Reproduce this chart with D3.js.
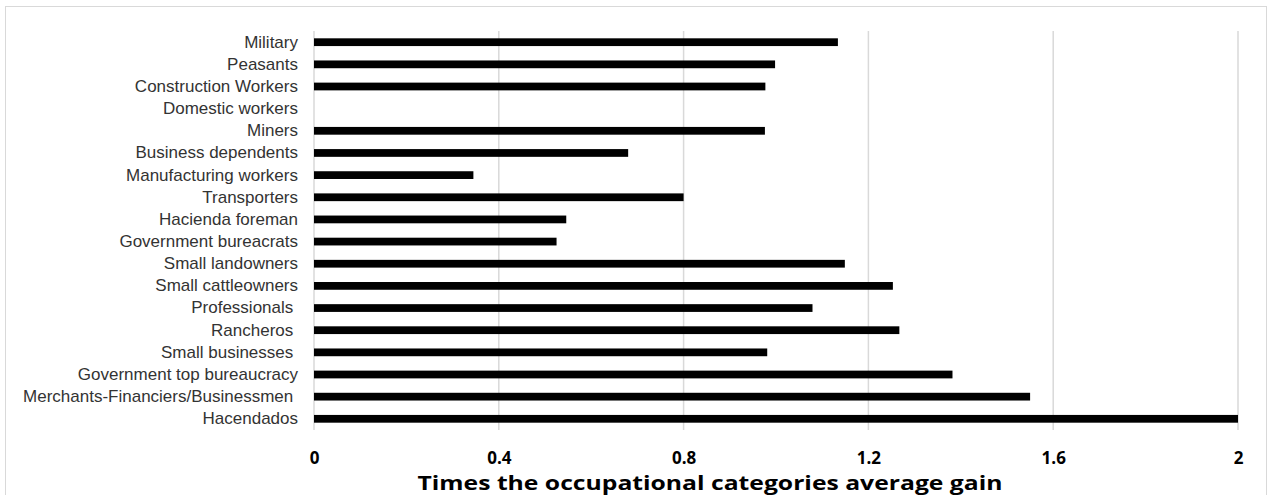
<!DOCTYPE html>
<html lang="en">
<head>
    <meta charset="UTF-8">
    <script src="https://cdn.jsdelivr.net/npm/d3@7"></script>
    <title>Occupational categories average gain</title>
    <style>
        body { margin: 0; background: #fff; }
        .cat text { white-space: pre; }
    </style>
</head>
<body>
    <script>
        const w = 1269;
        const h = 495;

        const categories = [
            "Military", "Peasants", "Construction Workers", "Domestic workers", "Miners",
            "Business dependents", "Manufacturing workers", "Transporters", "Hacienda foreman",
            "Government bureacrats", "Small landowners", "Small cattleowners", "Professionals ",
            "Rancheros ", "Small businesses ", "Government top bureaucracy",
            "Merchants-Financiers/Businessmen ", "Hacendados"
        ];
        const gains = [
            1.134, 0.998, 0.977, 0, 0.976,
            0.680, 0.345, 0.800, 0.546,
            0.525, 1.149, 1.253, 1.079,
            1.267, 0.981, 1.382,
            1.550, 2.000
        ];
        const tickValues = [0, 0.4, 0.8, 1.2, 1.6, 2];
        const axisTitle = "Times the occupational categories average gain";

        const margin = {top: 31, left: 314, right: 31, bottom: 65};

        const svg = d3.select("body")
                        .append("svg")
                        .attr("width", w)
                        .attr("height", h);

        // chart frame
        svg.append("rect")
            .attr("x", 5.5)
            .attr("y", 6.5)
            .attr("width", 1261)
            .attr("height", h + 10)
            .attr("fill", "none")
            .attr("stroke", "#d9d9d9");

        const x = d3.scaleLinear()
                    .domain([0, 2])
                    .range([margin.left, w - margin.right]);

        const y = d3.scaleBand()
                    .domain(categories)
                    .range([margin.top, h - margin.bottom])
                    .paddingInner(0.65)
                    .paddingOuter(0.33);

        // gridlines
        svg.append("g")
            .selectAll("line")
            .data(tickValues)
            .enter()
            .append("line")
            .attr("x1", d => x(d))
            .attr("x2", d => x(d))
            .attr("y1", margin.top)
            .attr("y2", h - margin.bottom)
            .attr("stroke", "#d9d9d9")
            .attr("stroke-width", 1.5);

        // bars
        svg.append("g")
            .selectAll("rect")
            .data(categories)
            .enter()
            .append("rect")
            .attr("x", x(0))
            .attr("y", d => y(d))
            .attr("height", y.bandwidth())
            .attr("width", (d, i) => x(gains[i]) - x(0))
            .attr("fill", "#000");

        // category labels
        const yAxis = d3.axisLeft(y).tickSize(0).tickPadding(16);
        svg.append("g")
            .attr("class", "cat")
            .attr("transform", "translate(" + x(0) + ",0)")
            .call(yAxis)
            .call(g => g.select(".domain").remove())
            .selectAll("text")
            .attr("font-family", "Liberation Sans, Arial, sans-serif")
            .attr("font-size", 17)
            .attr("fill", "#333");

        // value axis
        const xAxis = d3.axisBottom(x)
                        .tickValues(tickValues)
                        .tickFormat(d3.format("~g"))
                        .tickSize(0)
                        .tickPadding(22);
        svg.append("g")
            .attr("transform", "translate(0," + (h - margin.bottom) + ")")
            .call(xAxis)
            .call(g => g.select(".domain").remove())
            .selectAll("text")
            .attr("font-family", "Open Sans, sans-serif")
            .attr("font-weight", "bold")
            .attr("font-size", 17)
            .attr("fill", "#000");

        svg.append("text")
            .attr("x", 710)
            .attr("y", 490)
            .attr("text-anchor", "middle")
            .attr("font-family", "Open Sans, sans-serif")
            .attr("font-weight", "bold")
            .attr("font-size", 19)
            .attr("textLength", 585)
            .attr("lengthAdjust", "spacingAndGlyphs")
            .attr("fill", "#000")
            .text(axisTitle);
    </script>
</body>
</html>
